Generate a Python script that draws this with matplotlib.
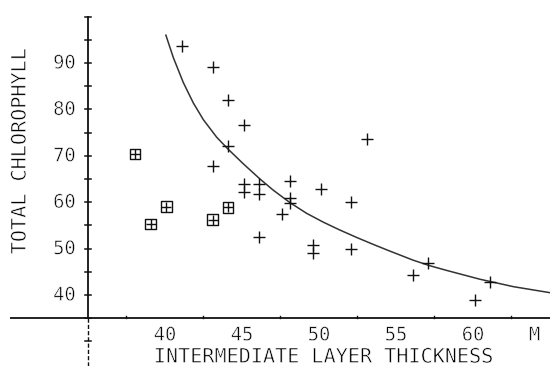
import matplotlib
matplotlib.use("Agg")
import matplotlib.pyplot as plt
from matplotlib import patheffects

# ---- data ----
plus_x = [41.1, 43.1, 44.1, 45.1, 44.1, 43.1, 45.1, 45.1, 46.1, 46.1, 48.1, 48.1, 48.1,
          50.1, 47.6, 46.1, 49.6, 49.6, 53.1, 52.1, 52.1, 56.1, 57.1, 61.1, 60.1]
plus_y = [93.7, 89.1, 82.0, 76.7, 72.1, 67.7, 63.9, 62.1, 63.9, 61.7, 64.6, 60.8, 59.9,
          62.8, 57.4, 52.4, 50.7, 49.1, 73.6, 60.0, 49.9, 44.3, 47.0, 42.9, 38.9]

box_x = [38.05, 40.1, 39.07, 43.1, 44.1]
box_y = [70.4, 59.0, 55.3, 56.2, 58.9]

curve_x = [40.06, 40.54, 41.19, 41.84, 42.49, 43.36, 44.11, 45.08, 46.17, 47.03,
           48.12, 49.20, 50.28, 51.36, 52.45, 53.53, 54.50, 56.12, 57.21, 58.29,
           60.45, 61.54, 62.62, 65.0]
curve_y = [96.0, 91.2, 85.8, 81.4, 77.8, 74.0, 71.4, 68.3, 65.0, 62.6,
           59.9, 57.6, 55.7, 54.0, 52.4, 50.9, 49.6, 47.5, 46.3, 45.3,
           43.4, 42.6, 41.8, 40.5]

x_tick_labels = ["40", "45", "50", "55", "60"]
x_tick_vals = [40, 45, 50, 55, 60]
y_tick_labels = ["90", "80", "70", "60", "50", "40"]
y_tick_vals = [90, 80, 70, 60, 50, 40]

x_title = "INTERMEDIATE LAYER THICKNESS"
y_title = "TOTAL CHLOROPHYLL"
x_unit = "M"

# ---- figure ----
fig = plt.figure(figsize=(5.5, 3.66), dpi=100)
ax = fig.add_axes([0, 0, 1, 1])
ax.set_xlim(29.29, 65.0)
ax.set_ylim(24.7, 103.58)
ax.axis("off")

ink = "#111111"
thin = [patheffects.Stroke(linewidth=0.45, foreground="white")]
fp = dict(family="DejaVu Sans Mono", color="black", path_effects=thin)

# axes lines
ax.plot([29.95, 65.0], [35, 35], color=ink, lw=1.3, solid_capstyle="butt")
ax.plot([35, 35], [35, 100], color=ink, lw=1.3)
ax.plot([35, 35], [24.7, 35], color=ink, lw=1.0, ls=(0, (3, 1.5)))

# y ticks (crossing)
for v in range(30, 101, 5):
    ax.plot([34.8, 35.2], [v, v], color=ink, lw=1.1)
# x ticks (small, upward)
for v in [37.5, 42.5, 47.5, 52.5, 57.5, 62.5]:
    ax.plot([v, v], [35, 35.5], color=ink, lw=1.0)

# data
ax.plot(curve_x, curve_y, color="#333333", lw=1.1)
ax.scatter(plus_x, plus_y, marker="+", s=75, color=ink, linewidths=1.0, zorder=3)
ax.scatter(box_x, box_y, marker="s", s=60, facecolors="none", edgecolors=ink, linewidths=1.0, zorder=3)
ax.scatter(box_x, box_y, marker="+", s=60, color=ink, linewidths=1.0, zorder=3)

# tick labels
for v, t in zip(y_tick_vals, y_tick_labels):
    ax.text(34.2, v, t, ha="right", va="center", fontsize=13.5, **fp)
for v, t in zip(x_tick_vals, x_tick_labels):
    ax.text(v, 31.4, t, ha="center", va="center", fontsize=13.5, **fp)
ax.text(64.0, 31.4, x_unit, ha="center", va="center", fontsize=13.5, **fp)

# titles
ax.text(50.3, 26.6, x_title, ha="center", va="center", fontsize=14.5, **fp)
ax.text(30.6, 71.0, y_title, ha="center", va="center", rotation=90, fontsize=14.5, **fp)

fig.savefig("out.png", dpi=100)
